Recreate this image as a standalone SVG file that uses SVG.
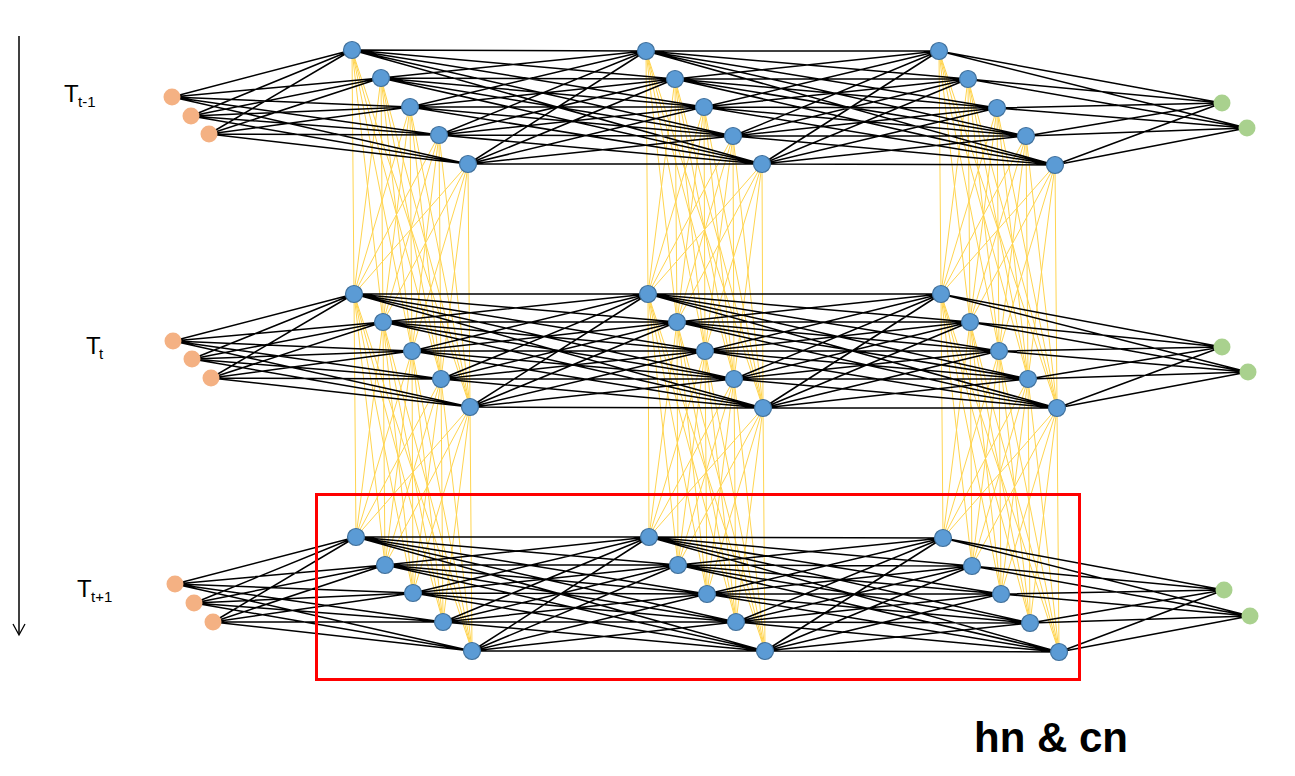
<svg xmlns="http://www.w3.org/2000/svg" width="1295" height="776" viewBox="0 0 1295 776">
<style>
.k{fill:none;stroke:#000;stroke-width:1.5}
.y{fill:none;stroke:#FFD44F;stroke-width:1}
.h{fill:#5B9BD5;stroke:#41719C;stroke-width:1.2}
.i{fill:#F4B183}
.o{fill:#A9D18E}
.lbl{font-family:"Liberation Sans",Arial,sans-serif;font-size:24px;fill:#000}
.sub{font-size:15px}
.title{font-family:"Liberation Sans",Arial,sans-serif;font-size:42px;font-weight:bold;fill:#000}
</style>
<rect width="1295" height="776" fill="#fff"/>
<g id="time-arrow">
<line x1="19" y1="36" x2="19" y2="634" stroke="#000" stroke-width="1.5"/>
<path d="M13 624L19 635L25 624" fill="none" stroke="#000" stroke-width="1.3"/>
</g>
<g id="connectors">
<path class="y" d="M352 50L354 294M352 50L383 322M352 50L412 351M352 50L441 379M352 50L470 407M381 78L354 294M381 78L383 322M381 78L412 351M381 78L441 379M381 78L470 407M410 107L354 294M410 107L383 322M410 107L412 351M410 107L441 379M410 107L470 407M439 135L354 294M439 135L383 322M439 135L412 351M439 135L441 379M439 135L470 407M468 164L354 294M468 164L383 322M468 164L412 351M468 164L441 379M468 164L470 407"/>
<path class="y" d="M646 51L648 294M646 51L677 322M646 51L705 351M646 51L734 379M646 51L763 408M675 79L648 294M675 79L677 322M675 79L705 351M675 79L734 379M675 79L763 408M704 107L648 294M704 107L677 322M704 107L705 351M704 107L734 379M704 107L763 408M733 136L648 294M733 136L677 322M733 136L705 351M733 136L734 379M733 136L763 408M762 164L648 294M762 164L677 322M762 164L705 351M762 164L734 379M762 164L763 408"/>
<path class="y" d="M939 51L941 294M939 51L970 322M939 51L999 351M939 51L1028 379M939 51L1057 408M968 79L941 294M968 79L970 322M968 79L999 351M968 79L1028 379M968 79L1057 408M997 108L941 294M997 108L970 322M997 108L999 351M997 108L1028 379M997 108L1057 408M1026 136L941 294M1026 136L970 322M1026 136L999 351M1026 136L1028 379M1026 136L1057 408M1055 165L941 294M1055 165L970 322M1055 165L999 351M1055 165L1028 379M1055 165L1057 408"/>
<path class="y" d="M354 294L356 537M354 294L385 565M354 294L413 593M354 294L443 622M354 294L472 651M383 322L356 537M383 322L385 565M383 322L413 593M383 322L443 622M383 322L472 651M412 351L356 537M412 351L385 565M412 351L413 593M412 351L443 622M412 351L472 651M441 379L356 537M441 379L385 565M441 379L413 593M441 379L443 622M441 379L472 651M470 407L356 537M470 407L385 565M470 407L413 593M470 407L443 622M470 407L472 651"/>
<path class="y" d="M648 294L649 537M648 294L678 565M648 294L707 594M648 294L736 622M648 294L765 651M677 322L649 537M677 322L678 565M677 322L707 594M677 322L736 622M677 322L765 651M705 351L649 537M705 351L678 565M705 351L707 594M705 351L736 622M705 351L765 651M734 379L649 537M734 379L678 565M734 379L707 594M734 379L736 622M734 379L765 651M763 408L649 537M763 408L678 565M763 408L707 594M763 408L736 622M763 408L765 651"/>
<path class="y" d="M941 294L943 538M941 294L972 566M941 294L1001 594M941 294L1030 623M941 294L1059 652M970 322L943 538M970 322L972 566M970 322L1001 594M970 322L1030 623M970 322L1059 652M999 351L943 538M999 351L972 566M999 351L1001 594M999 351L1030 623M999 351L1059 652M1028 379L943 538M1028 379L972 566M1028 379L1001 594M1028 379L1030 623M1028 379L1059 652M1057 408L943 538M1057 408L972 566M1057 408L1001 594M1057 408L1030 623M1057 408L1059 652"/>
<path class="k" d="M172 97L352 50M172 97L381 78M172 97L410 107M172 97L439 135M172 97L468 164M191 116L352 50M191 116L381 78M191 116L410 107M191 116L439 135M191 116L468 164M209 134L352 50M209 134L381 78M209 134L410 107M209 134L439 135M209 134L468 164"/>
<path class="k" d="M352 50L646 51M352 50L675 79M352 50L704 107M352 50L733 136M352 50L762 164M381 78L646 51M381 78L675 79M381 78L704 107M381 78L733 136M381 78L762 164M410 107L646 51M410 107L675 79M410 107L704 107M410 107L733 136M410 107L762 164M439 135L646 51M439 135L675 79M439 135L704 107M439 135L733 136M439 135L762 164M468 164L646 51M468 164L675 79M468 164L704 107M468 164L733 136M468 164L762 164"/>
<path class="k" d="M646 51L939 51M646 51L968 79M646 51L997 108M646 51L1026 136M646 51L1055 165M675 79L939 51M675 79L968 79M675 79L997 108M675 79L1026 136M675 79L1055 165M704 107L939 51M704 107L968 79M704 107L997 108M704 107L1026 136M704 107L1055 165M733 136L939 51M733 136L968 79M733 136L997 108M733 136L1026 136M733 136L1055 165M762 164L939 51M762 164L968 79M762 164L997 108M762 164L1026 136M762 164L1055 165"/>
<path class="k" d="M939 51L1222 103M939 51L1247 128M968 79L1222 103M968 79L1247 128M997 108L1222 103M997 108L1247 128M1026 136L1222 103M1026 136L1247 128M1055 165L1222 103M1055 165L1247 128"/>
<path class="k" d="M173 341L354 294M173 341L383 322M173 341L412 351M173 341L441 379M173 341L470 407M192 359L354 294M192 359L383 322M192 359L412 351M192 359L441 379M192 359L470 407M211 378L354 294M211 378L383 322M211 378L412 351M211 378L441 379M211 378L470 407"/>
<path class="k" d="M354 294L648 294M354 294L677 322M354 294L705 351M354 294L734 379M354 294L763 408M383 322L648 294M383 322L677 322M383 322L705 351M383 322L734 379M383 322L763 408M412 351L648 294M412 351L677 322M412 351L705 351M412 351L734 379M412 351L763 408M441 379L648 294M441 379L677 322M441 379L705 351M441 379L734 379M441 379L763 408M470 407L648 294M470 407L677 322M470 407L705 351M470 407L734 379M470 407L763 408"/>
<path class="k" d="M648 294L941 294M648 294L970 322M648 294L999 351M648 294L1028 379M648 294L1057 408M677 322L941 294M677 322L970 322M677 322L999 351M677 322L1028 379M677 322L1057 408M705 351L941 294M705 351L970 322M705 351L999 351M705 351L1028 379M705 351L1057 408M734 379L941 294M734 379L970 322M734 379L999 351M734 379L1028 379M734 379L1057 408M763 408L941 294M763 408L970 322M763 408L999 351M763 408L1028 379M763 408L1057 408"/>
<path class="k" d="M941 294L1222 347M941 294L1248 372M970 322L1222 347M970 322L1248 372M999 351L1222 347M999 351L1248 372M1028 379L1222 347M1028 379L1248 372M1057 408L1222 347M1057 408L1248 372"/>
<path class="k" d="M175 584L356 537M175 584L385 565M175 584L413 593M175 584L443 622M175 584L472 651M194 603L356 537M194 603L385 565M194 603L413 593M194 603L443 622M194 603L472 651M213 622L356 537M213 622L385 565M213 622L413 593M213 622L443 622M213 622L472 651"/>
<path class="k" d="M356 537L649 537M356 537L678 565M356 537L707 594M356 537L736 622M356 537L765 651M385 565L649 537M385 565L678 565M385 565L707 594M385 565L736 622M385 565L765 651M413 593L649 537M413 593L678 565M413 593L707 594M413 593L736 622M413 593L765 651M443 622L649 537M443 622L678 565M443 622L707 594M443 622L736 622M443 622L765 651M472 651L649 537M472 651L678 565M472 651L707 594M472 651L736 622M472 651L765 651"/>
<path class="k" d="M649 537L943 538M649 537L972 566M649 537L1001 594M649 537L1030 623M649 537L1059 652M678 565L943 538M678 565L972 566M678 565L1001 594M678 565L1030 623M678 565L1059 652M707 594L943 538M707 594L972 566M707 594L1001 594M707 594L1030 623M707 594L1059 652M736 622L943 538M736 622L972 566M736 622L1001 594M736 622L1030 623M736 622L1059 652M765 651L943 538M765 651L972 566M765 651L1001 594M765 651L1030 623M765 651L1059 652"/>
<path class="k" d="M943 538L1224 590M943 538L1250 616M972 566L1224 590M972 566L1250 616M1001 594L1224 590M1001 594L1250 616M1030 623L1224 590M1030 623L1250 616M1059 652L1224 590M1059 652L1250 616"/>
</g>
<g id="in-1-1"><circle class="i" cx="172" cy="97" r="8.5"/></g>
<g id="in-1-2"><circle class="i" cx="191" cy="116" r="8.5"/></g>
<g id="in-1-3"><circle class="i" cx="209" cy="134" r="8.5"/></g>
<g id="h1-1-1"><circle class="h" cx="352" cy="50" r="8.5"/></g>
<g id="h1-1-2"><circle class="h" cx="381" cy="78" r="8.5"/></g>
<g id="h1-1-3"><circle class="h" cx="410" cy="107" r="8.5"/></g>
<g id="h1-1-4"><circle class="h" cx="439" cy="135" r="8.5"/></g>
<g id="h1-1-5"><circle class="h" cx="468" cy="164" r="8.5"/></g>
<g id="h1-2-1"><circle class="h" cx="646" cy="51" r="8.5"/></g>
<g id="h1-2-2"><circle class="h" cx="675" cy="79" r="8.5"/></g>
<g id="h1-2-3"><circle class="h" cx="704" cy="107" r="8.5"/></g>
<g id="h1-2-4"><circle class="h" cx="733" cy="136" r="8.5"/></g>
<g id="h1-2-5"><circle class="h" cx="762" cy="164" r="8.5"/></g>
<g id="h1-3-1"><circle class="h" cx="939" cy="51" r="8.5"/></g>
<g id="h1-3-2"><circle class="h" cx="968" cy="79" r="8.5"/></g>
<g id="h1-3-3"><circle class="h" cx="997" cy="108" r="8.5"/></g>
<g id="h1-3-4"><circle class="h" cx="1026" cy="136" r="8.5"/></g>
<g id="h1-3-5"><circle class="h" cx="1055" cy="165" r="8.5"/></g>
<g id="out-1-1"><circle class="o" cx="1222" cy="103" r="8.5"/></g>
<g id="out-1-2"><circle class="o" cx="1247" cy="128" r="8.5"/></g>
<g id="in-2-1"><circle class="i" cx="173" cy="341" r="8.5"/></g>
<g id="in-2-2"><circle class="i" cx="192" cy="359" r="8.5"/></g>
<g id="in-2-3"><circle class="i" cx="211" cy="378" r="8.5"/></g>
<g id="h2-1-1"><circle class="h" cx="354" cy="294" r="8.5"/></g>
<g id="h2-1-2"><circle class="h" cx="383" cy="322" r="8.5"/></g>
<g id="h2-1-3"><circle class="h" cx="412" cy="351" r="8.5"/></g>
<g id="h2-1-4"><circle class="h" cx="441" cy="379" r="8.5"/></g>
<g id="h2-1-5"><circle class="h" cx="470" cy="407" r="8.5"/></g>
<g id="h2-2-1"><circle class="h" cx="648" cy="294" r="8.5"/></g>
<g id="h2-2-2"><circle class="h" cx="677" cy="322" r="8.5"/></g>
<g id="h2-2-3"><circle class="h" cx="705" cy="351" r="8.5"/></g>
<g id="h2-2-4"><circle class="h" cx="734" cy="379" r="8.5"/></g>
<g id="h2-2-5"><circle class="h" cx="763" cy="408" r="8.5"/></g>
<g id="h2-3-1"><circle class="h" cx="941" cy="294" r="8.5"/></g>
<g id="h2-3-2"><circle class="h" cx="970" cy="322" r="8.5"/></g>
<g id="h2-3-3"><circle class="h" cx="999" cy="351" r="8.5"/></g>
<g id="h2-3-4"><circle class="h" cx="1028" cy="379" r="8.5"/></g>
<g id="h2-3-5"><circle class="h" cx="1057" cy="408" r="8.5"/></g>
<g id="out-2-1"><circle class="o" cx="1222" cy="347" r="8.5"/></g>
<g id="out-2-2"><circle class="o" cx="1248" cy="372" r="8.5"/></g>
<g id="in-3-1"><circle class="i" cx="175" cy="584" r="8.5"/></g>
<g id="in-3-2"><circle class="i" cx="194" cy="603" r="8.5"/></g>
<g id="in-3-3"><circle class="i" cx="213" cy="622" r="8.5"/></g>
<g id="h3-1-1"><circle class="h" cx="356" cy="537" r="8.5"/></g>
<g id="h3-1-2"><circle class="h" cx="385" cy="565" r="8.5"/></g>
<g id="h3-1-3"><circle class="h" cx="413" cy="593" r="8.5"/></g>
<g id="h3-1-4"><circle class="h" cx="443" cy="622" r="8.5"/></g>
<g id="h3-1-5"><circle class="h" cx="472" cy="651" r="8.5"/></g>
<g id="h3-2-1"><circle class="h" cx="649" cy="537" r="8.5"/></g>
<g id="h3-2-2"><circle class="h" cx="678" cy="565" r="8.5"/></g>
<g id="h3-2-3"><circle class="h" cx="707" cy="594" r="8.5"/></g>
<g id="h3-2-4"><circle class="h" cx="736" cy="622" r="8.5"/></g>
<g id="h3-2-5"><circle class="h" cx="765" cy="651" r="8.5"/></g>
<g id="h3-3-1"><circle class="h" cx="943" cy="538" r="8.5"/></g>
<g id="h3-3-2"><circle class="h" cx="972" cy="566" r="8.5"/></g>
<g id="h3-3-3"><circle class="h" cx="1001" cy="594" r="8.5"/></g>
<g id="h3-3-4"><circle class="h" cx="1030" cy="623" r="8.5"/></g>
<g id="h3-3-5"><circle class="h" cx="1059" cy="652" r="8.5"/></g>
<g id="out-3-1"><circle class="o" cx="1224" cy="590" r="8.5"/></g>
<g id="out-3-2"><circle class="o" cx="1250" cy="616" r="8.5"/></g>
<g id="highlight"><rect x="316.5" y="494.5" width="763" height="185" fill="none" stroke="#FF0000" stroke-width="3"/></g>
<g id="labels">
<text class="lbl" x="64" y="102">T<tspan class="sub" x="78" y="107">t-1</tspan></text>
<text class="lbl" x="86" y="354">T<tspan class="sub" x="99" y="359">t</tspan></text>
<text class="lbl" x="77" y="597">T<tspan class="sub" x="91" y="602">t+1</tspan></text>
<text class="title" x="974" y="752">hn &amp; cn</text>
</g>
</svg>
